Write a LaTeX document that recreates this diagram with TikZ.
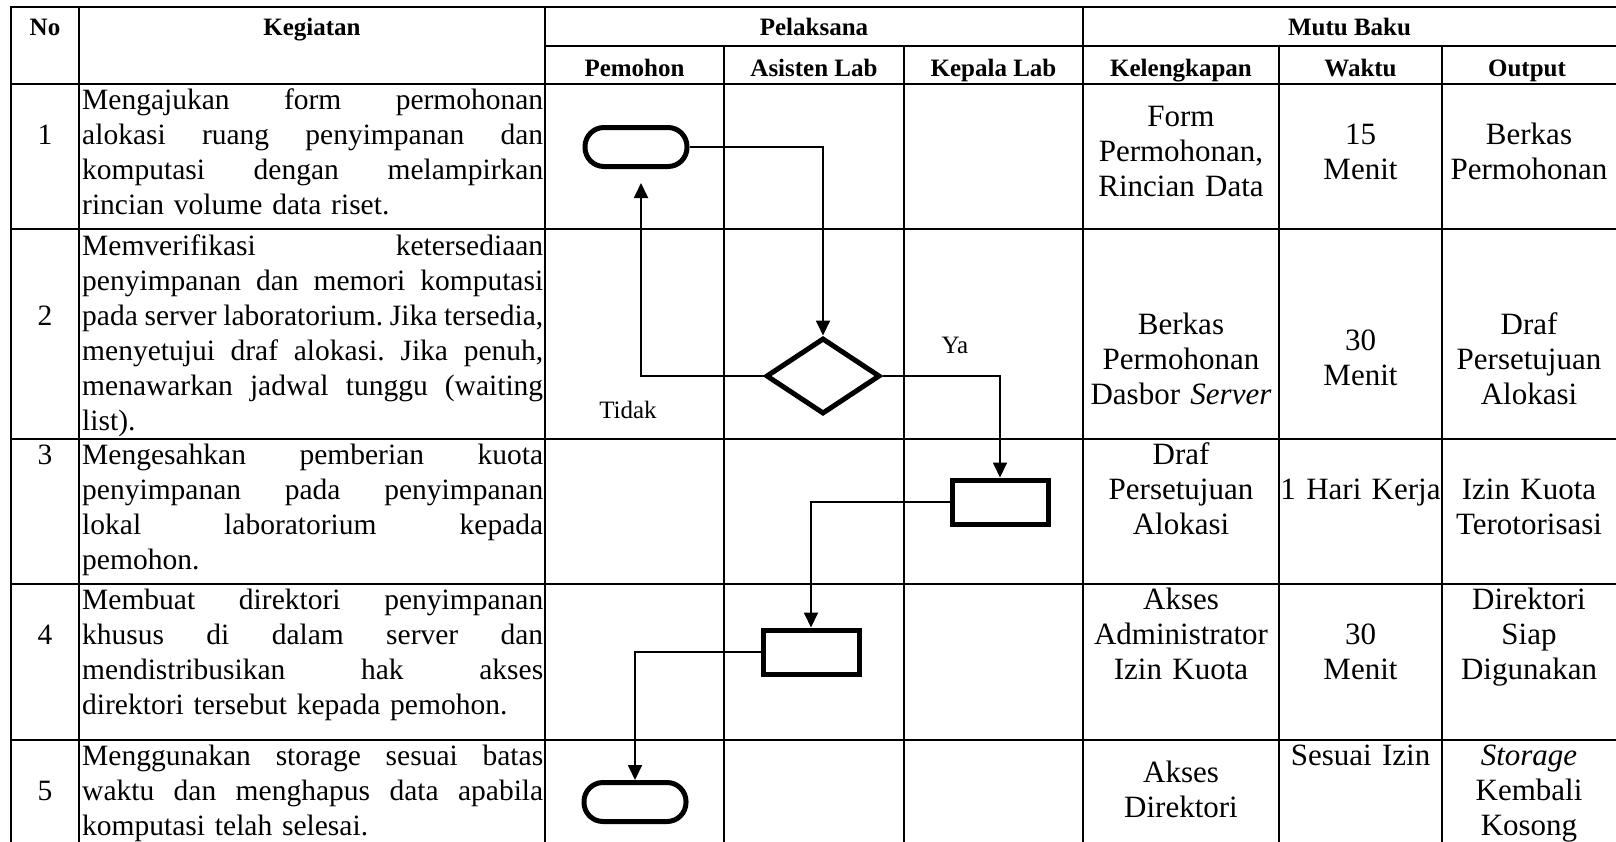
\documentclass[tikz,border=0pt]{standalone}
\usepackage{fontspec}
\setmainfont{Liberation Serif}
\usetikzlibrary{arrows.meta,shapes.geometric}

% body text of the activity column; full lines are spread to the column width
\newcommand\kgfont{\fontsize{29.5}{35}\selectfont\frenchspacing}
\newcommand\mbfont{\fontsize{31}{35}\selectfont}
\newcommand\jl[1]{\hbox to 461pt{\spaceskip=0.2em plus 1fil minus 0.1em\xspaceskip=\spaceskip\relax#1}\par}

\begin{document}
\begin{tikzpicture}[x=1pt,y=-1pt,
  grid/.style={line width=2.6pt,line cap=rect},
  hd/.style={anchor=base,inner sep=0pt,font=\fontsize{25}{30}\selectfont\bfseries},
  kg/.style={anchor=base west,text width=461pt,inner sep=0pt,font=\kgfont},
  num/.style={anchor=base,inner sep=0pt,font=\kgfont},
  mb/.style={anchor=base,text width=#1,align=center,inner sep=0pt,font=\mbfont},
  lbl/.style={anchor=base,inner sep=0pt,font=\fontsize{25}{30}\selectfont},
  term/.style={draw,line width=5pt,rounded corners=19pt,minimum width=102pt,minimum height=39pt,inner sep=0pt},
  proc/.style={draw,line width=5pt,minimum width=96pt,minimum height=44pt,inner sep=0pt},
  dec/.style={draw,diamond,line width=5pt,minimum width=114pt,minimum height=76pt,inner sep=0pt},
  conn/.style={line width=1.8pt,-{Triangle[length=15pt,width=14pt]}}]
\useasboundingbox (0,0) rectangle (1616,841);

% table grid
\draw[grid] (11,7) -- (1616,7);
\draw[grid] (545,46) -- (1616,46);
\foreach \y in {84,229,439,584,740} \draw[grid] (11,\y) -- (1616,\y);
\foreach \x in {11,79,545,1083} \draw[grid] (\x,7) -- (\x,841);
\foreach \x in {724,904,1279,1442} \draw[grid] (\x,46) -- (\x,841);

% headers
\node[hd] (hNo) at (45,35) {No};
\node[hd] (hKeg) at (312,35) {Kegiatan};
\node[hd] (hPel) at (814,35) {Pelaksana};
\node[hd] (hMutu) at (1349.5,35) {Mutu Baku};
\node[hd] (hPem) at (634.5,76) {Pemohon};
\node[hd] (hAsi) at (814,76) {Asisten Lab};
\node[hd] (hKep) at (993.5,76) {Kepala Lab};
\node[hd] (hKel) at (1181,76) {Kelengkapan};
\node[hd] (hWak) at (1360.5,76) {Waktu};
\node[hd] (hOut) at (1527,76) {Output};

% numbers
\node[num] (n1) at (45,144) {1};
\node[num] (n2) at (45,325) {2};
\node[num] (n3) at (45,464) {3};
\node[num] (n4) at (45,644) {4};
\node[num] (n5) at (45,800) {5};

% activities
\node[kg] (k1) at (82,109) {\jl{Mengajukan form permohonan}\jl{alokasi ruang penyimpanan dan}\jl{komputasi dengan melampirkan}rincian volume data riset.};
\node[kg] (k2) at (82,255) {\jl{Memverifikasi ketersediaan}\jl{penyimpanan dan memori komputasi}\jl{pada server laboratorium. Jika tersedia,}\jl{menyetujui draf alokasi. Jika penuh,}\jl{menawarkan jadwal tunggu (waiting}list).};
\node[kg] (k3) at (82,464) {\jl{Mengesahkan pemberian kuota}\jl{penyimpanan pada penyimpanan}\jl{lokal laboratorium kepada}pemohon.};
\node[kg] (k4) at (82,609) {\jl{Membuat direktori penyimpanan}\jl{khusus di dalam server dan}\jl{mendistribusikan hak akses}direktori tersebut kepada pemohon.};
\node[kg] (k5) at (82,765) {\jl{Menggunakan storage sesuai batas}\jl{waktu dan menghapus data apabila}komputasi telah selesai.};

% quality standard columns
\node[mb=190pt] (kel1) at (1181,126.5) {Form\\Permohonan,\\Rincian Data};
\node[mb=175pt] (wkt1) at (1360.5,144) {15\\Menit};
\node[mb=170pt] (out1) at (1529,144) {Berkas\\Permohonan};
\node[mb=190pt] (kel2) at (1181,334) {Berkas\\Permohonan\\Dasbor \textit{Server}};
\node[mb=175pt] (wkt2) at (1360.5,350) {30\\Menit};
\node[mb=170pt] (out2) at (1529,334) {Draf\\Persetujuan\\Alokasi};
\node[mb=190pt] (kel3) at (1181,464) {Draf\\Persetujuan\\Alokasi};
\node[mb=175pt] (wkt3) at (1360.5,499) {1 Hari Kerja};
\node[mb=170pt] (out3) at (1529,499) {Izin Kuota\\Terotorisasi};
\node[mb=190pt] (kel4) at (1181,609) {Akses\\Administrator\\Izin Kuota};
\node[mb=175pt] (wkt4) at (1360.5,644) {30\\Menit};
\node[mb=170pt] (out4) at (1529,609) {Direktori\\Siap\\Digunakan};
\node[mb=190pt] (kel5) at (1181,782) {Akses\\Direktori};
\node[mb=175pt] (wkt5) at (1360.5,765) {Sesuai Izin};
\node[mb=170pt] (out5) at (1529,765) {\textit{Storage}\\Kembali\\Kosong};

% flowchart symbols
\node[term] (t1) at (636,147) {};
\node[dec] (d2) at (823,376) {};
\node[proc] (r3) at (1000,502) {};
\node[proc] (r4) at (811,652) {};
\node[term] (t5) at (635,802) {};

% flow
\draw[conn] (t1.east) -| (d2.north);
\draw[conn] (d2.west) -| ([xshift=5pt,yshift=-14pt]t1.south);
\draw[conn] (d2.east) -| (r3.north);
\draw[conn] (r3.west) -| (r4.north);
\draw[conn] (r4.west) -| (t5.north);

\node[lbl] (ya) at (955,353) {Ya};
\node[lbl] (tidak) at (628,418) {Tidak};
\end{tikzpicture}
\end{document}
